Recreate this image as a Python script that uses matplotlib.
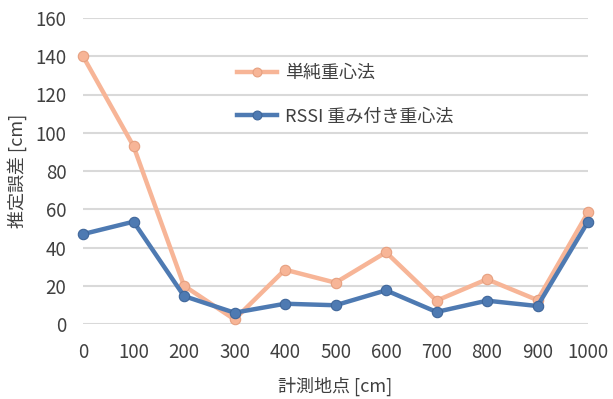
import matplotlib
matplotlib.use('Agg')
import matplotlib.pyplot as plt

plt.rcParams['font.family'] = ['Noto Sans CJK JP', 'DejaVu Sans']

# 計測地点 [cm]
points = [0, 100, 200, 300, 400, 500, 600, 700, 800, 900, 1000]
# 推定誤差 [cm]
err_simple = [140, 93, 20, 2.4, 28.4, 21.6, 37.5, 12.2, 23.4, 12.5, 58.4]
err_rssi = [47, 53.5, 14.6, 5.9, 10.6, 9.8, 17.6, 6.3, 12.2, 9.4, 53.5]
yticks = [0, 20, 40, 60, 80, 100, 120, 140, 160]
xticks = points

fig = plt.figure(figsize=(6.13, 3.99), dpi=100)
ax = fig.add_axes([83/613, 1-324/399, 505/613, 306/399])

ax.plot(points, err_simple, color='#F7B597', lw=3.2, marker='o', ms=7.5,
        mfc='#F7B597', mec='#E6A080', mew=0.8, label='単純重心法', zorder=3,
        clip_on=False)
ax.plot(points, err_rssi, color='#4E7AB2', lw=3.2, marker='o', ms=7.5,
        mfc='#4E7AB2', mec='#3F669A', mew=0.8, label='RSSI 重み付き重心法', zorder=4,
        clip_on=False)

ax.set_xlim(0, 1000)
ax.set_ylim(0, 160)
ax.set_xticks(xticks)
ax.set_yticks(yticks)
ax.yaxis.grid(True, color='#D9D9D9', lw=1.5)
ax.set_axisbelow(True)
for s in ax.spines.values():
    s.set_visible(False)
ax.tick_params(length=0, labelsize=13.5, colors='#404040')
ax.tick_params(axis='x', pad=13)
ax.tick_params(axis='y', pad=12)

ax.set_xlabel('計測地点 [cm]', fontsize=13, color='#404040', labelpad=10)
ax.set_ylabel('推定誤差 [cm]', fontsize=13, color='#404040', labelpad=6)

ax.legend(loc='upper left', bbox_to_anchor=(0.305, 0.849), frameon=False,
          fontsize=13, labelspacing=1.4, handlelength=2.2, handletextpad=0.45,
          borderpad=0, borderaxespad=0, markerscale=0.85, labelcolor='#404040')

fig.savefig('out.png', dpi=100)
